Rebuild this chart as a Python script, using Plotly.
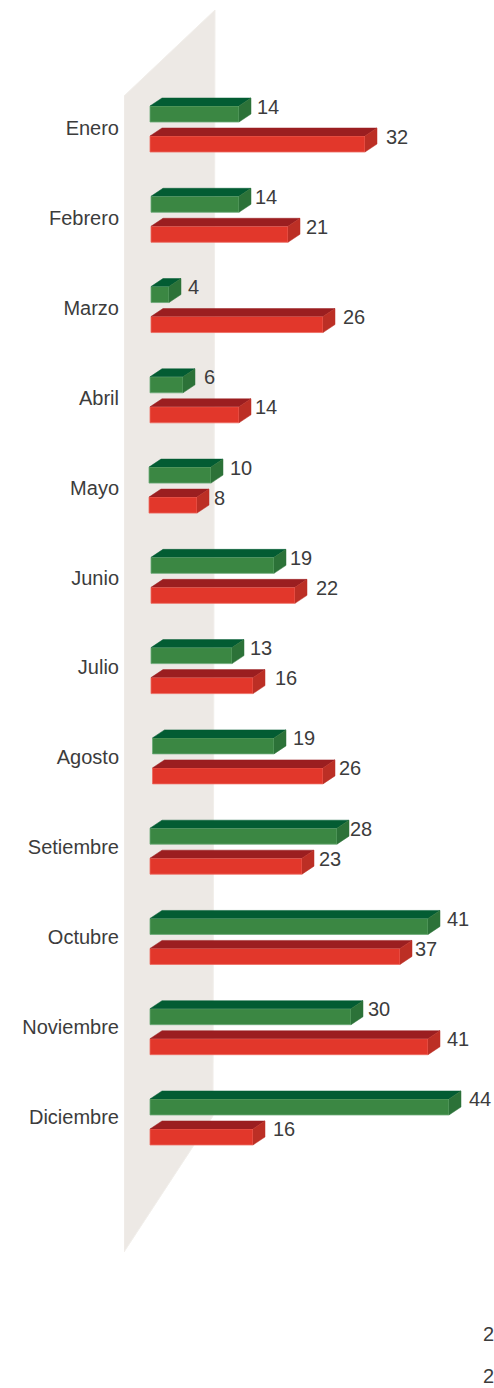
import plotly.graph_objects as go

months = ["Enero", "Febrero", "Marzo", "Abril", "Mayo", "Junio", "Julio", "Agosto",
          "Setiembre", "Octubre", "Noviembre", "Diciembre"]
green_values = [14, 14, 4, 6, 10, 19, 13, 19, 28, 41, 30, 44]
red_values = [32, 21, 26, 14, 8, 22, 16, 26, 23, 37, 41, 16]

# layout constants (pixels)
W, H = 494, 1388
PLOT_LEFT = 124
PX_PER_UNIT = 7.0
ZERO_PX = 141.0
BAR_BASE_PX = [150, 151, 151, 150, 149, 151, 151, 152.5, 150, 150, 150, 150]
ROW0_PX, ROW_PITCH = 129.0, 90.27
LABEL0_PX, LABEL_PITCH = 128.0, 89.9
BAR_H = 16.0
BAR_GAP = 14.0
DEPTH_X, DEPTH_Y = 12.0, 8.0
GREEN_GAPS = [6, 4, 7, 9, 7, 4, 6, 7, 1, 7, 5, 8]
RED_GAPS = [9, 6, 8, 4, 5, 9, 10, 4, 5, 3, 7, 8]
LABEL_DY = 2.5
FONT = "Liberation Sans"
TEXT = "#3c3c3c"
FS = 20


def dx(px):
    return px / PX_PER_UNIT


def dy(px):
    return px / ROW_PITCH


def xv(px):
    return (px - ZERO_PX) / PX_PER_UNIT


def yv(px):
    return (px - ROW0_PX) / ROW_PITCH


fig = go.Figure()


def add_series(values, name, sign, gaps, front, top, side, edge):
    offset = sign * (BAR_GAP + BAR_H) / 2
    bases = [xv(b) for b in BAR_BASE_PX]
    rows = [i + dy(offset) for i in range(len(values))]
    fig.add_trace(go.Bar(
        name=name, orientation="h", y=rows,
        x=[v - b for v, b in zip(values, bases)], base=bases,
        width=dy(BAR_H), marker=dict(color=front, line=dict(color=edge, width=0.8)),
        hoverinfo="skip", showlegend=False))
    tx, ty, sx, sy = [], [], [], []
    hh = dy(BAR_H) / 2
    ddx, ddy = dx(DEPTH_X), dy(DEPTH_Y)
    for v, b, r in zip(values, bases, rows):
        tx += [b, b + ddx, v + ddx, v, None]
        ty += [r - hh, r - hh - ddy, r - hh - ddy, r - hh, None]
        sx += [v, v + ddx, v + ddx, v, None]
        sy += [r - hh, r - hh - ddy, r + hh - ddy, r + hh, None]
    fig.add_trace(go.Scatter(x=tx, y=ty, mode="lines", fill="toself", fillcolor=top,
                             line=dict(color=top, width=0.5), hoverinfo="skip", showlegend=False))
    fig.add_trace(go.Scatter(x=sx, y=sy, mode="lines", fill="toself", fillcolor=side,
                             line=dict(color=side, width=0.5), hoverinfo="skip", showlegend=False))
    fig.add_trace(go.Scatter(
        x=[v + dx(DEPTH_X + g) for v, g in zip(values, gaps)],
        y=[r - hh + dy(LABEL_DY) for r in rows], mode="text",
        text=[str(v) for v in values], textposition="middle right",
        textfont=dict(family=FONT, size=FS, color=TEXT),
        hoverinfo="skip", showlegend=False, cliponaxis=False))


add_series(green_values, "Verde", -1, GREEN_GAPS, "#3b8743", "#035c33", "#2c7238", "#6ba877")
add_series(red_values, "Rojo", 1, RED_GAPS, "#e2372b", "#9b1e20", "#bc2f25", "#ec6a60")

wall = [(124, 96), (215, 10), (213, 1116), (124, 1252)]
path = "M " + " L ".join(f"{xv(x)},{yv(y)}" for x, y in wall) + " Z"

fig.update_layout(
    width=W, height=H, margin=dict(l=PLOT_LEFT, r=0, t=0, b=0, pad=0),
    paper_bgcolor="white", plot_bgcolor="rgba(0,0,0,0)",
    barmode="overlay", showlegend=False,
    font=dict(family=FONT, size=FS, color=TEXT),
    shapes=[dict(type="path", path=path, xref="x", yref="y", layer="below",
                 fillcolor="#ede9e5", line=dict(color="#f1eeea", width=1))],
    annotations=[
        dict(text="2", x=1, xref="paper", xshift=-13, xanchor="left", y=yv(py), yref="y",
             showarrow=False, font=dict(family=FONT, size=FS, color=TEXT))
        for py in (1334, 1376)
    ],
    xaxis=dict(range=[xv(PLOT_LEFT), xv(W)], visible=False, fixedrange=True),
    yaxis=dict(range=[yv(H), yv(0)], showgrid=False, zeroline=False, showline=False,
               ticks="", ticklen=0, ticklabelstandoff=4, fixedrange=True,
               tickmode="array",
               tickvals=[yv(LABEL0_PX + LABEL_PITCH * i) for i in range(len(months))],
               ticktext=months,
               tickfont=dict(family=FONT, size=FS, color=TEXT)),
)

fig.write_html("out.html", config=dict(displayModeBar=False, responsive=False),
               post_script="document.body.style.margin='0';document.body.style.overflow='hidden';")
